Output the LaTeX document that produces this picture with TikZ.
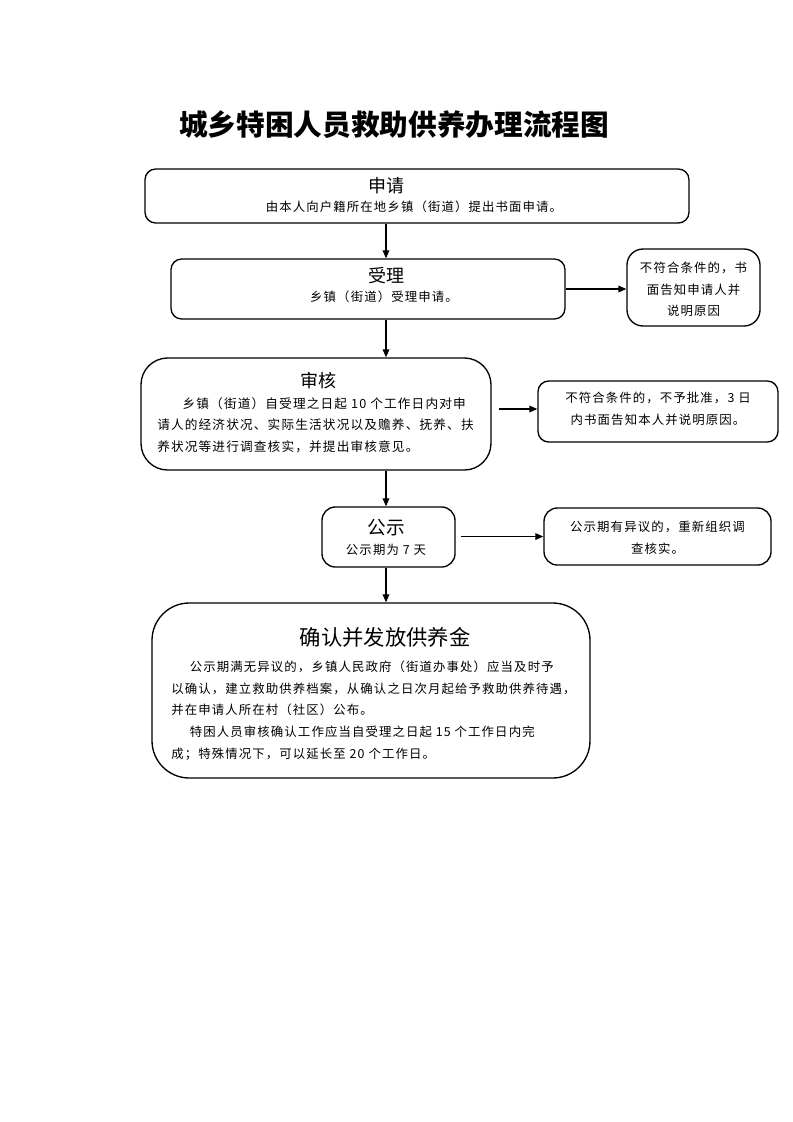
\documentclass[tikz,border=0pt]{standalone}
\usepackage{fontspec}
\setmainfont{Noto Sans CJK SC}
\newfontfamily\bodyfont[LetterSpace=9]{Noto Sans CJK SC}
\usetikzlibrary{arrows.meta}

\begin{document}
\begin{tikzpicture}[x=0.75pt,y=-0.75pt,
  stepbox/.style={draw,line width=1pt,inner sep=0pt},
  head/.style={inner sep=0pt,font=\fontsize{13.5}{16}\selectfont},
  body/.style={inner sep=0pt,font=\bodyfont\fontsize{9.3}{16.2}\selectfont},
  flow/.style={line width=0.9pt,-{Triangle[length=6pt,width=5pt]}}]

\useasboundingbox (0,0) rectangle (793,1122);

% title
\node[inner sep=0pt,font=\fontsize{21.5}{24}\selectfont\bfseries] (title) at (394,125) {城乡特困人员救助供养办理流程图};

% main column
\node[stepbox,rounded corners=8pt,minimum width=544*0.75pt,minimum height=54*0.75pt] (shenqing) at (417,196) {};
\node[head] (shenqingT) at (386,186) {申请};
\node[body] (shenqingB) at (414,207) {由本人向户籍所在地乡镇（街道）提出书面申请。};

\node[stepbox,rounded corners=8pt,minimum width=394*0.75pt,minimum height=60*0.75pt] (shouli) at (368,289) {};
\node[head] (shouliT) at (386,276) {受理};
\node[body] (shouliB) at (384,297) {乡镇（街道）受理申请。};

\node[stepbox,rounded corners=20pt,minimum width=350*0.75pt,minimum height=112*0.75pt] (shenhe) at (316,414) {};
\node[head] (shenheT) at (318,381) {审核};
\node[body,font=\bodyfont\fontsize{9.5}{16}\selectfont,anchor=west,align=left] (shenheB) at (157,425) {\hspace{2em}乡镇（街道）自受理之日起 10 个工作日内对申\\请人的经济状况、实际生活状况以及赡养、抚养、扶\\养状况等进行调查核实，并提出审核意见。};

\node[stepbox,rounded corners=10pt,minimum width=133*0.75pt,minimum height=60*0.75pt] (gongshi) at (388.5,537) {};
\node[head,font=\fontsize{14}{16}\selectfont] (gongshiT) at (386,528) {公示};
\node[body] (gongshiB) at (386,550) {公示期为 7 天};

\node[stepbox,rounded corners=28pt,minimum width=438*0.75pt,minimum height=175*0.75pt] (queren) at (371,690.5) {};
\node[head,font=\fontsize{16}{18}\selectfont] (querenT) at (385,637) {确认并发放供养金};
\node[body,anchor=west,align=left] (querenB) at (171,710.5) {\hspace{1.5em}公示期满无异议的，乡镇人民政府（街道办事处）应当及时予\\以确认，建立救助供养档案，从确认之日次月起给予救助供养待遇，\\并在申请人所在村（社区）公布。\\\hspace{1.5em}特困人员审核确认工作应当自受理之日起 15 个工作日内完\\成；特殊情况下，可以延长至 20 个工作日。};

% side column
\node[stepbox,rounded corners=12pt,minimum width=133*0.75pt,minimum height=77*0.75pt] (buhe1) at (693.5,287.5) {};
\node[body,align=center] (buhe1B) at (693.5,289.5) {不符合条件的，书\\面告知申请人并\\说明原因};

\node[stepbox,rounded corners=8pt,minimum width=240*0.75pt,minimum height=61*0.75pt] (buhe2) at (658,411.5) {};
\node[body,align=center] (buhe2B) at (658,409) {不符合条件的，不予批准，3 日\\内书面告知本人并说明原因。};

\node[stepbox,rounded corners=10pt,minimum width=227*0.75pt,minimum height=57*0.75pt] (yiyi) at (657.5,536.5) {};
\node[body,align=center] (yiyiB) at (657.5,537.5) {公示期有异议的，重新组织调\\查核实。};

% connectors
\draw[flow] (shenqing.south -| shouliT) -- (shouli.north -| shouliT);
\draw[flow] (shouli.south -| shouliT) -- (shenhe.north -| shouliT);
\draw[flow] (shenhe.south -| shouliT) -- (gongshi.north -| shouliT);
\draw[flow] (gongshi.south -| gongshiT) -- (queren.north -| gongshiT);
\draw[flow] (shouli.east) -- (buhe1.west |- shouli.east);
\draw[flow,shorten <=7*0.75pt] (shenhe.east |- buhe2B) -- (buhe2.west |- buhe2B);
\draw[flow,shorten <=5*0.75pt] (gongshi.east |- yiyi) -- (yiyi.west);
\end{tikzpicture}
\end{document}
